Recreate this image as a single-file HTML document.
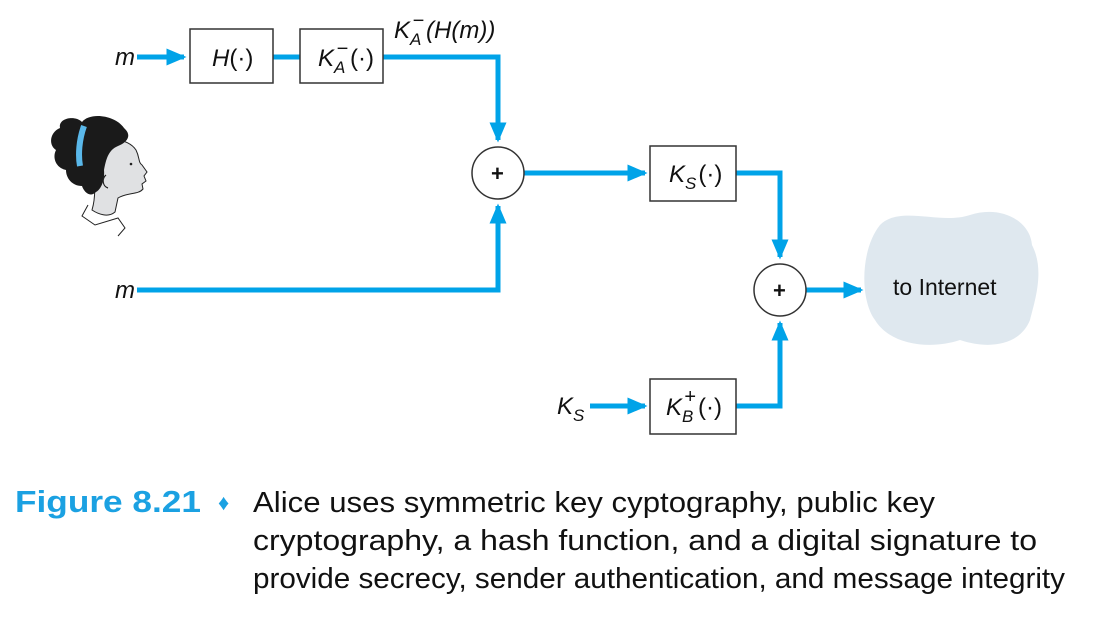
<!DOCTYPE html>
<html><head><meta charset="utf-8"><style>
html,body{margin:0;padding:0;background:#fff;}
svg{display:block;}
text{font-family:"Liberation Sans",sans-serif;}
</style></head><body>
<svg width="1118" height="632" viewBox="0 0 1118 632" xmlns="http://www.w3.org/2000/svg">
<defs>
<marker id="a" markerWidth="4" markerHeight="3.4" refX="3.5" refY="1.7" orient="auto" markerUnits="strokeWidth">
<path d="M0,0 L4,1.7 L0,3.4 z" fill="#00a3e8"/></marker>
</defs>
<g stroke="#00a3e8" stroke-width="5" fill="none">
<line x1="137" y1="57" x2="184" y2="57" marker-end="url(#a)"/>
<line x1="273" y1="57" x2="300" y2="57"/>
<polyline points="383,57 498,57 498,140" marker-end="url(#a)"/>
<polyline points="137,290 498,290 498,206" marker-end="url(#a)"/>
<line x1="523" y1="173" x2="645" y2="173" marker-end="url(#a)"/>
<polyline points="736,173 780,173 780,257" marker-end="url(#a)"/>
<polyline points="736,406 780,406 780,323" marker-end="url(#a)"/>
<line x1="590" y1="406" x2="645" y2="406" marker-end="url(#a)"/>
<line x1="806" y1="290" x2="861" y2="290" marker-end="url(#a)"/>
</g>
<g stroke="#333" stroke-width="1.5" fill="#fff">
<rect x="190" y="29" width="83" height="54"/>
<rect x="300" y="29" width="83" height="54"/>
<rect x="650" y="146" width="86" height="55"/>
<rect x="650" y="379" width="86" height="55"/>
<circle cx="498" cy="173" r="26"/>
<circle cx="780" cy="290" r="26"/>
</g>
<path d="M880,225 C900,205 940,225 970,215 C1000,205 1030,220 1032,245 C1045,270 1035,300 1030,320 C1020,345 990,350 960,340 C930,350 890,345 875,320 C860,300 860,250 880,225 z" fill="#dfe8ef"/>
<g font-size="24" fill="#111">
<text x="115" y="65" font-style="italic">m</text>
<text x="115" y="298" font-style="italic">m</text>
<text x="212" y="66" font-style="italic">H<tspan font-style="normal">(·)</tspan></text>
<text x="318" y="66" font-style="italic">K<tspan font-size="17" dy="7">A</tspan><tspan font-size="20" dy="-18" dx="-9">−</tspan><tspan font-style="normal" dy="11" dx="2">(·)</tspan></text>
<text x="394" y="38" font-style="italic">K<tspan font-size="17" dy="7">A</tspan><tspan font-size="20" dy="-18" dx="-9">−</tspan><tspan dy="11" dx="2">(H(m))</tspan></text>
<text x="669" y="182" font-style="italic">K<tspan font-size="17" dy="7">S</tspan><tspan font-style="normal" dy="-7" dx="2">(·)</tspan></text>
<text x="666" y="415" font-style="italic">K<tspan font-size="17" dy="7">B</tspan><tspan font-style="normal" font-size="20" dy="-19" dx="-9">+</tspan><tspan font-style="normal" dy="12" dx="2">(·)</tspan></text>
<text x="557" y="414" font-style="italic">K<tspan font-size="17" dy="7">S</tspan></text>
<text x="491" y="181" font-size="22" font-weight="bold">+</text>
<text x="773" y="298" font-size="22" font-weight="bold">+</text>
<text x="893" y="295" font-size="23">to Internet</text>
</g>
<!-- Alice -->
<g stroke="#222" stroke-width="1">
<path d="M88,205 L82,216 L95,225 L118,218 L125,228 L118,236 M95,225" fill="none"/>
<path d="M92,150 C105,135 128,138 136,150 C140,158 138,162 142,165 L147,172 L144,176 L146,181 L142,184 L143,189 C138,195 128,192 118,198 L115,212 C108,218 98,214 92,210 C95,200 96,185 92,165 z" fill="#e0e1e3"/>
</g>
<path d="M60,128 C58,118 75,115 82,122 C90,112 115,115 124,128 C132,135 128,142 118,146 C108,150 106,160 104,170 C105,182 100,190 96,192 C90,198 84,192 82,186 C72,186 66,178 66,170 C56,168 52,158 56,150 C48,145 50,132 60,128 z" fill="#1a1a1a"/>
<path d="M84,126 C79,140 78,155 80,166" stroke="#5ab8ea" stroke-width="6" fill="none"/>
<path d="M106,175 C102,178 102,186 108,188" stroke="#222" stroke-width="1.2" fill="none"/>
<circle cx="131" cy="164" r="1.3" fill="#222"/>
<text x="15" y="512" font-size="31" font-weight="bold" fill="#1ba1e2" textLength="186" lengthAdjust="spacingAndGlyphs">Figure 8.21</text>
<text x="218" y="510" font-size="22" fill="#1ba1e2">♦</text>
<g font-size="29" fill="#111">
<text x="253" y="512" textLength="682" lengthAdjust="spacingAndGlyphs">Alice uses symmetric key cyptography, public key</text>
<text x="253" y="550" textLength="784" lengthAdjust="spacingAndGlyphs">cryptography, a hash function, and a digital signature to</text>
<text x="253" y="588" textLength="812" lengthAdjust="spacingAndGlyphs">provide secrecy, sender authentication, and message integrity</text>
</g>
</svg>
</body></html>
